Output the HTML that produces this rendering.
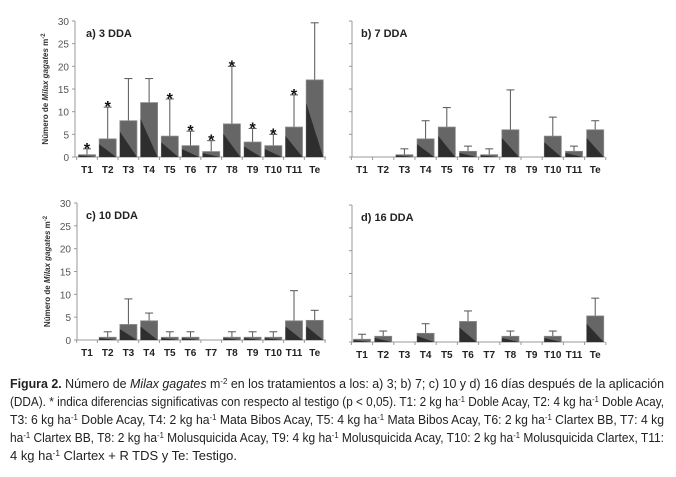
<!DOCTYPE html>
<html><head><meta charset="utf-8"><style>
html,body{margin:0;padding:0;background:#fff;}
svg{display:block;}
</style></head><body>
<svg id="s" width="676" height="477" xmlns="http://www.w3.org/2000/svg" font-family="Liberation Sans, sans-serif"></svg>
<script>
const s=document.getElementById('s');
let h='';
const cats=['T1','T2','T3','T4','T5','T6','T7','T8','T9','T10','T11','Te'];
const panels=[
 {x0:75,x1:326,y0:157,yt:21,c0:87,dc:20.7,labels:true,title:'a) 3 DDA',
  v:[[0.5,1.8,1],[4,11,1],[8,17.3,0],[12,17.3,0],[4.6,12.8,1],[2.5,5.7,1],[1.2,3.6,1],[7.3,20,1],[3.3,6.3,1],[2.5,5,1],[6.6,13.7,1],[17,29.6,0]]},
 {x0:352,x1:605,y0:157,yt:21,c0:362,dc:21.2,labels:false,title:'b) 7 DDA',
  v:[[0,0],[0,0],[0.5,1.8],[4,8],[6.6,10.9],[1.25,2.4],[0.5,1.8],[6,14.8],[0,0],[4.6,8.8],[1.25,2.4],[6,8]]},
 {x0:77,x1:326,y0:340,yt:203,c0:87,dc:20.7,labels:true,title:'c) 10 DDA',
  v:[[0,0],[0.6,1.8],[3.4,9],[4.2,5.9],[0.6,1.8],[0.6,1.8],[0,0],[0.6,1.8],[0.6,1.8],[0.6,1.8],[4.2,10.8],[4.3,6.5]]},
 {x0:352,x1:605,y0:342,yt:205,c0:362,dc:21.2,labels:false,title:'d) 16 DDA',
  v:[[0.6,1.7],[1.25,2.4],[0,0],[1.9,4],[0,0],[4.5,6.8],[0,0],[1.25,2.4],[0,0],[1.25,2.4],[0,0],[5.7,9.6]]}
];
for(const p of panels){
 const k=(p.y0-p.yt)/30;
 h+=`<line x1="${p.x0}" y1="${p.yt}" x2="${p.x0}" y2="${p.y0}" stroke="#999"/>`;
 h+=`<line x1="${p.x0}" y1="${p.y0}" x2="${p.x1}" y2="${p.y0}" stroke="#999"/>`;
 for(let t=0;t<=30;t+=5){const y=p.y0-t*k;
  h+=`<line x1="${p.x0-3}" y1="${y}" x2="${p.x0}" y2="${y}" stroke="#999"/>`;
  if(p.labels)h+=`<text x="${p.x0-6}" y="${y+4}" font-size="10" fill="#555" text-anchor="end">${t}</text>`;}
 for(let i=0;i<=12;i++){const x=p.c0-p.dc/2+i*p.dc;h+=`<line x1="${x}" y1="${p.y0}" x2="${x}" y2="${p.y0+3}" stroke="#999"/>`;}
 if(p.labels){const cy=(p.y0+p.yt)/2;h+=`<text transform="translate(${p.x0-27},${cy}) rotate(-90)" font-size="8" font-weight="bold" fill="#333" text-anchor="middle">Número de <tspan font-style="italic">Milax gagates</tspan> m<tspan font-size="6" dy="-3">-2</tspan></text>`;}
 h+=`<text x="${p.c0-1}" y="${p.yt+16}" font-size="11" font-weight="bold" fill="#222">${p.title}</text>`;
 p.v.forEach((d,i)=>{const cx=p.c0+i*p.dc;
  h+=`<text x="${cx}" y="${p.y0+16}" font-size="10" font-weight="bold" fill="#222" text-anchor="middle">${cats[i]}</text>`;
  if(d[0]>0){const w=17,x=cx-w/2,yt=p.y0-d[0]*k,bh=d[0]*k;
   const ey=p.y0-d[1]*k;
   h+=`<line x1="${cx}" y1="${ey}" x2="${cx}" y2="${yt}" stroke="#555"/><line x1="${cx-4}" y1="${ey}" x2="${cx+4}" y2="${ey}" stroke="#555"/>`;
   h+=`<rect x="${x}" y="${yt}" width="${w}" height="${bh}" fill="#666" stroke="#888" stroke-width="0.8"/>`;
   h+=`<polygon points="${x},${p.y0-bh*0.7} ${x+w},${p.y0} ${x},${p.y0}" fill="#2e2e2e"/>`;
   if(d[2])h+=`<text x="${cx}" y="${ey+5}" font-size="16" font-weight="bold" fill="#111" text-anchor="middle">*</text>`;}
 });
}
const lines=[
 ['<tspan font-weight="bold">Figura 2.</tspan> Número de <tspan font-style="italic">Milax gagates</tspan> m<tspan font-size="8" dy="-4">-2</tspan><tspan dy="4"> en los tratamientos a los: a) 3; b) 7; c) 10 y d) 16 días después de la aplicación</tspan>',654],
 ['(DDA). * indica diferencias significativas con respecto al testigo (p &lt; 0,05). T1: 2 kg ha<tspan font-size="8" dy="-4">-1</tspan><tspan dy="4"> Doble Acay, T2: 4 kg ha</tspan><tspan font-size="8" dy="-4">-1</tspan><tspan dy="4"> Doble Acay,</tspan>',654],
 ['T3: 6 kg ha<tspan font-size="8" dy="-4">-1</tspan><tspan dy="4"> Doble Acay, T4: 2 kg ha</tspan><tspan font-size="8" dy="-4">-1</tspan><tspan dy="4"> Mata Bibos Acay, T5: 4 kg ha</tspan><tspan font-size="8" dy="-4">-1</tspan><tspan dy="4"> Mata Bibos Acay, T6: 2 kg ha</tspan><tspan font-size="8" dy="-4">-1</tspan><tspan dy="4"> Clartex BB, T7: 4 kg</tspan>',654],
 ['ha<tspan font-size="8" dy="-4">-1</tspan><tspan dy="4"> Clartex BB, T8: 2 kg ha</tspan><tspan font-size="8" dy="-4">-1</tspan><tspan dy="4"> Molusquicida Acay, T9: 4 kg ha</tspan><tspan font-size="8" dy="-4">-1</tspan><tspan dy="4"> Molusquicida Acay, T10: 2 kg ha</tspan><tspan font-size="8" dy="-4">-1</tspan><tspan dy="4"> Molusquicida Clartex, T11:</tspan>',654],
 ['4 kg ha<tspan font-size="8" dy="-4">-1</tspan><tspan dy="4"> Clartex + R TDS y Te: Testigo.</tspan>',227]
];
lines.forEach((l,i)=>{h+=`<text x="10" y="${388+i*18}" font-size="12.5" fill="#222" textLength="${l[1]}" lengthAdjust="spacingAndGlyphs">${l[0]}</text>`;});
s.innerHTML=h;
</script>
</body></html>
